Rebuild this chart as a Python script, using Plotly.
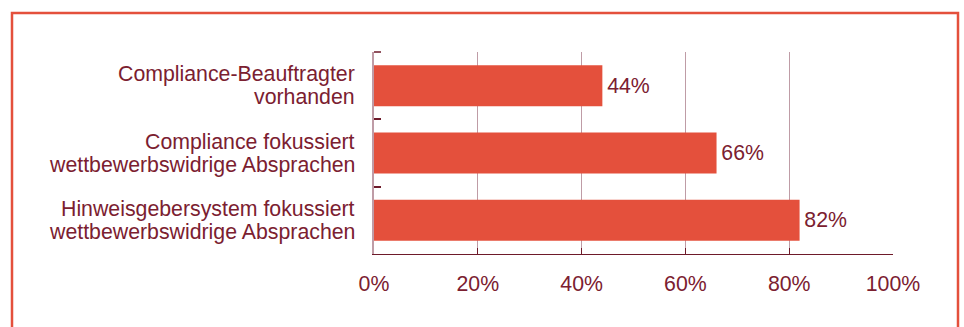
import plotly.graph_objects as go

# Survey results: share of companies with each compliance measure
categories = [
    "Compliance-Beauftragter<br>vorhanden",
    "Compliance fokussiert<br>wettbewerbswidrige Absprachen",
    "Hinweisgebersystem fokussiert<br>wettbewerbswidrige Absprachen",
]
shares = [44, 66, 82]
x_ticks = [0, 20, 40, 60, 80, 100]
x_tick_labels = ["0%", "20%", "40%", "60%", "80%", "100%"]

W, H = 964, 327
ML, MR, MT, MB = 374, 71, 52, 73
PW, PH = W - ML - MR, H - MT - MB

BAR = "#E4503C"
TEXT = "#7B2030"
DARK = "#6E1A2A"
GRID = "#BF9CA6"
FONT = "Liberation Sans, Arial, sans-serif"
FS = 21.3


def px_x(x):
    return (x - ML) / PW


def px_y(y):
    return (H - MB - y) / PH


fig = go.Figure(
    go.Bar(
        x=shares,
        y=categories,
        orientation="h",
        width=0.61,
        marker=dict(color=BAR, line=dict(width=0)),
        text=[f"\u200a{v}%" for v in shares],
        textposition="outside",
        cliponaxis=False,
        textfont=dict(family=FONT, size=FS, color=TEXT),
        hoverinfo="skip",
    )
)

# two-line category labels, set left of the axis
annotations = []
for cat in categories:
    lines = cat.split("<br>")
    for i, line in enumerate(lines):
        annotations.append(
            dict(
                x=0,
                xref="paper",
                y=cat,
                yref="y",
                text=line,
                showarrow=False,
                xanchor="right",
                yanchor="middle",
                xshift=-17,
                yshift=11.5 - 23 * i,
                font=dict(family=FONT, size=FS, color=TEXT),
            )
        )

fig.update_layout(
    width=W,
    height=H,
    margin=dict(l=ML, r=MR, t=MT, b=MB, pad=0),
    paper_bgcolor="white",
    plot_bgcolor="white",
    showlegend=False,
    annotations=annotations,
    shapes=[
        # outer frame
        dict(
            type="rect",
            xref="paper",
            yref="paper",
            x0=px_x(12),
            x1=px_x(958),
            y0=px_y(345),
            y1=px_y(13),
            line=dict(color=BAR, width=2.5),
            fillcolor="rgba(0,0,0,0)",
            layer="above",
        ),
        # top boundary tick of the category axis
        dict(
            type="line",
            xref="paper",
            yref="paper",
            x0=0,
            x1=px_x(ML + 7),
            y0=1,
            y1=1,
            line=dict(color=DARK, width=1.5),
            layer="above",
        ),
    ],
    xaxis=dict(
        range=[0, 100],
        tickvals=x_ticks,
        ticktext=x_tick_labels,
        showgrid=True,
        gridcolor=GRID,
        gridwidth=1,
        zeroline=False,
        showline=True,
        linecolor=DARK,
        linewidth=1,
        ticks="inside",
        ticklen=6,
        tickcolor=DARK,
        tickwidth=1,
        ticklabelstandoff=10,
        tickfont=dict(family=FONT, size=FS, color=TEXT),
        fixedrange=True,
    ),
    yaxis=dict(
        autorange="reversed",
        showticklabels=False,
        showgrid=False,
        zeroline=False,
        showline=True,
        linecolor=GRID,
        linewidth=2,
        ticks="inside",
        tickson="boundaries",
        ticklen=7,
        tickcolor=DARK,
        tickwidth=1.5,
        fixedrange=True,
    ),
)

fig.write_html("out.html", config={"displayModeBar": False})
